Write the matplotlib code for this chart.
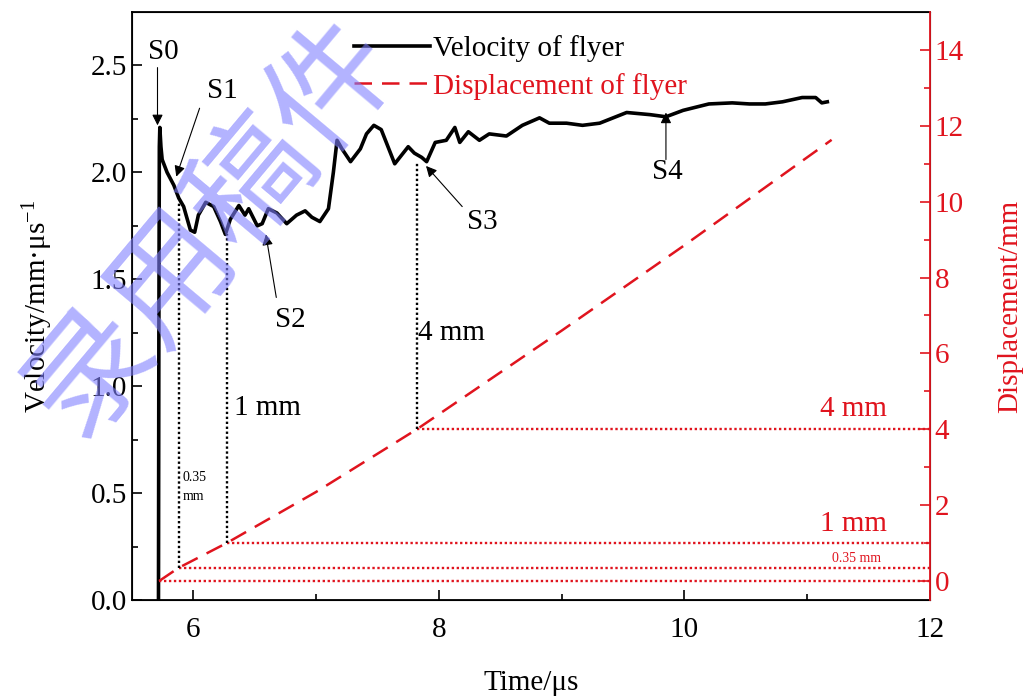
import matplotlib
matplotlib.use("Agg")
import matplotlib.pyplot as plt

plt.rcParams['font.family'] = ['Liberation Serif', 'DejaVu Serif']
plt.rcParams['mathtext.fontset'] = 'custom'
plt.rcParams['mathtext.rm'] = 'Liberation Serif'
plt.rcParams['mathtext.it'] = 'Liberation Serif:italic'

# velocity of flyer (time in us, velocity in mm/us)
t_vel = [5.715, 5.718, 5.722, 5.726, 5.735, 5.745, 5.785, 5.84, 5.88, 5.92,
         5.975, 6.01, 6.04, 6.10, 6.165, 6.22, 6.26, 6.30, 6.37, 6.42,
         6.45, 6.52, 6.56, 6.61, 6.68, 6.76, 6.84, 6.91, 6.965, 7.03,
         7.10, 7.14, 7.17, 7.21, 7.28, 7.36, 7.41, 7.47, 7.53, 7.64,
         7.75, 7.80, 7.86, 7.90, 7.97, 8.06, 8.13, 8.17, 8.24, 8.33,
         8.41, 8.55, 8.68, 8.82, 8.90, 9.04, 9.17, 9.31, 9.53, 9.72,
         9.85, 9.99, 10.20, 10.39, 10.53, 10.66, 10.80, 10.96, 11.07, 11.12,
         11.165]
vel = [0.0, 1.2, 2.12, 2.21, 2.12, 2.06, 2.00, 1.94, 1.88, 1.84,
       1.73, 1.72, 1.80, 1.86, 1.84, 1.77, 1.71, 1.78, 1.845, 1.80,
       1.83, 1.75, 1.76, 1.83, 1.81, 1.76, 1.80, 1.82, 1.79, 1.77,
       1.83, 2.00, 2.15, 2.11, 2.05, 2.11, 2.18, 2.22, 2.20, 2.04,
       2.12, 2.09, 2.07, 2.05, 2.14, 2.15, 2.21, 2.14, 2.19, 2.15,
       2.18, 2.17, 2.22, 2.255, 2.23, 2.23, 2.22, 2.23, 2.28, 2.27,
       2.26, 2.29, 2.32, 2.325, 2.32, 2.32, 2.33, 2.35, 2.35, 2.325,
       2.33]

# displacement of flyer (mm)
t_disp = [5.72, 5.88, 6.27, 7.0, 7.82, 9.0, 10.0, 11.2]
disp = [0.0, 0.35, 1.0, 2.35, 4.0, 6.6, 8.85, 11.63]

# marked displacements: time, velocity at that time, displacement
mark_t = [5.88, 6.27, 7.82]
mark_v = [1.86, 1.71, 2.05]
mark_d = [0.35, 1.0, 4.0]

# stage labels: text position and arrow tail / head
stages = ['S0', 'S1', 'S2', 'S3', 'S4']
stage_txt = [(5.756, 2.565), (6.236, 2.38), (6.79, 1.31), (8.35, 1.77), (9.86, 2.00)]
stage_tail = [(5.707, 2.49), (6.05, 2.30), (6.675, 1.415), (8.19, 1.84), (9.85, 2.06)]
stage_head = [(5.707, 2.22), (5.86, 1.98), (6.59, 1.71), (7.895, 2.03), (9.85, 2.28)]

red = '#e0141e'
fs = 21

fig = plt.figure(figsize=(10.24, 6.98), dpi=100)
ax = fig.add_axes([0.129, 0.1404, 0.779, 0.8424])
ax2 = ax.twinx()

ax.plot(t_vel, vel, color='black', lw=2.6, label='Velocity of flyer', zorder=5)
ax2.plot(t_disp, disp, color=red, lw=1.8, dashes=(7, 4), label='Displacement of flyer')

# dotted guide lines
ax2.plot([5.72, 12], [0, 0], color=red, lw=1.7, ls=(0, (1, 1.1)))
for tm, dm in zip(mark_t, mark_d):
    ax2.plot([tm, 12], [dm, dm], color=red, lw=1.7, ls=(0, (1, 1.1)))
# vertical black dotted lines, in displacement coordinates
for tm, vm, dm in zip(mark_t, mark_v, mark_d):
    d_top = (vm / 2.75) * 15.5 - 0.5
    ax2.plot([tm, tm], [dm, d_top], color='black', lw=1.7, ls=(0, (1, 1.1)))

ax.set_xlim(5.5, 12)
ax.set_ylim(0, 2.75)
ax2.set_ylim(-0.5, 15)

ax.set_xticks([6, 8, 10, 12])
ax.set_xticks([7, 9, 11], minor=True)
ax.set_yticks([0, 0.5, 1.0, 1.5, 2.0, 2.5])
ax.set_yticklabels(['0.0', '0.5', '1.0', '1.5', '2.0', '2.5'])
ax.set_yticks([0.25, 0.75, 1.25, 1.75, 2.25], minor=True)
ax2.set_yticks([0, 2, 4, 6, 8, 10, 12, 14])
ax2.set_yticks([1, 3, 5, 7, 9, 11, 13], minor=True)

ax.tick_params(axis='both', which='major', direction='in', length=7, width=1.2, labelsize=fs)
ax.tick_params(axis='both', which='minor', direction='in', length=4, width=1.2)
ax.tick_params(axis='x', pad=12)
ax2.tick_params(axis='y', which='major', direction='in', length=7, width=1.2,
                labelsize=fs, colors=red)
ax2.tick_params(axis='y', which='minor', direction='in', length=4, width=1.2, colors=red)

for s in ['left', 'bottom', 'top']:
    ax.spines[s].set_linewidth(1.3)
ax2.spines['right'].set_color(red)
ax2.spines['right'].set_linewidth(1.3)
ax2.spines['right'].set_zorder(10)

ax.set_xlabel('Time/μs', fontsize=fs, labelpad=20)
ax.set_ylabel('Velocity/mm·μs$^{-1}$', fontsize=fs, labelpad=26)
ax2.set_ylabel('Displacement/mm', fontsize=fs, color=red, labelpad=24)

# black value labels
ax.text(5.91, 0.53, '0.35\nmm', fontsize=10, ha='left', va='center', linespacing=1.6)
ax.text(6.33, 0.90, '1 mm', fontsize=fs, ha='left', va='center')
ax.text(7.83, 1.25, '4 mm', fontsize=fs, ha='left', va='center')
# red value labels
ax2.text(11.65, 4.2, '4 mm', fontsize=fs, color=red, ha='right', va='bottom')
ax2.text(11.65, 1.15, '1 mm', fontsize=fs, color=red, ha='right', va='bottom')
ax2.text(11.6, 0.42, '0.35 mm', fontsize=10, color=red, ha='right', va='bottom')

for name, txt, tail, head in zip(stages, stage_txt, stage_tail, stage_head):
    ax.text(txt[0], txt[1], name, fontsize=fs, ha='center', va='center', zorder=6)
    ax.annotate('', xy=head, xytext=tail, zorder=6,
                arrowprops=dict(arrowstyle='-|>', lw=0.8, color='black',
                                mutation_scale=16, shrinkA=0, shrinkB=0))

h1, l1 = ax.get_legend_handles_labels()
h2, l2 = ax2.get_legend_handles_labels()
leg = ax.legend(h1 + h2, l1 + l2, loc='upper left', bbox_to_anchor=(0.253, 0.995),
                frameon=False, fontsize=fs, handlelength=2.6, handletextpad=0.1,
                labelspacing=0.35, borderaxespad=0.3)
leg.get_texts()[1].set_color(red)
leg.set_zorder(20)

# watermark
fig.text(0.207, 0.675, '录用稿件', fontsize=90, rotation=50, ha='center', va='center',
         color='#8080ff', alpha=0.6, family=['Noto Sans CJK SC', 'DejaVu Sans'],
         zorder=30)

fig.savefig('out.png', dpi=100)
